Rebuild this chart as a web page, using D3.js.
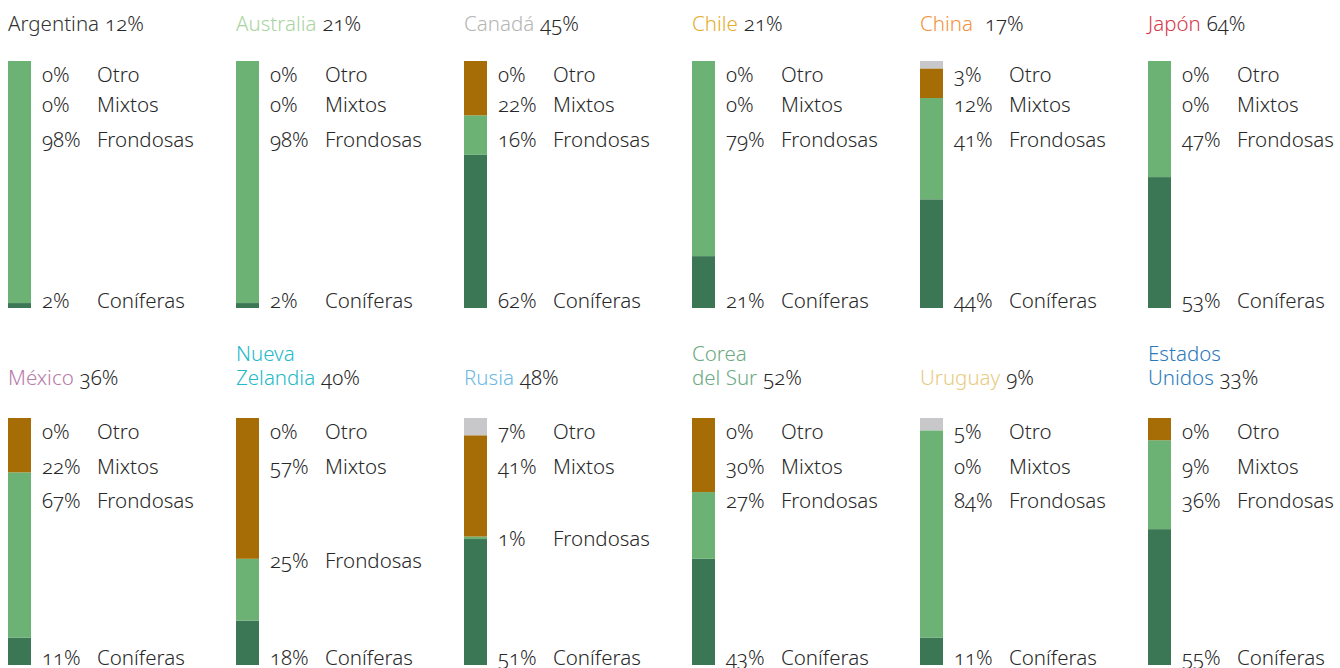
<!DOCTYPE html>
<html>
<head>
<meta charset="utf-8">
<script src="https://cdn.jsdelivr.net/npm/d3@7"></script>
<style>
  html, body { margin: 0; padding: 0; background: #fff; }
  svg text { font-family: "Noto Sans", "Liberation Sans", sans-serif; font-weight: 300; font-variant-numeric: oldstyle-nums; font-feature-settings: "onum" 1; }
</style>
</head>
<body>
<svg id="chart" width="1340" height="668"></svg>
<script>
// ---- data ----
const countries = ["Argentina", "Australia", "Canadá", "Chile", "China", "Japón",
                   "México", "Nueva\nZelandia", "Rusia", "Corea\ndel Sur", "Uruguay", "Estados\nUnidos"];
const totals    = [12, 21, 45, 21, 17, 64, 36, 40, 48, 52, 9, 33];
const otro      = [0, 0, 0, 0, 3, 0, 0, 0, 7, 0, 5, 0];
const mixtos    = [0, 0, 22, 0, 12, 0, 22, 57, 41, 30, 0, 9];
const frondosas = [98, 98, 16, 79, 41, 47, 67, 25, 1, 27, 84, 36];
const coniferas = [2, 2, 62, 21, 44, 53, 11, 18, 51, 43, 11, 55];
const categories = ["Coníferas", "Frondosas", "Mixtos", "Otro"];
const countryColors = ["#333333", "#a9d4a1", "#b5b5b5", "#e3ae2e", "#f4913c", "#d6394b",
                       "#b87aa8", "#25b8c9", "#6cb9e5", "#6baa82", "#e8cb82", "#2c7abb"];
const segColors = { "Coníferas": "#3b7655", "Frondosas": "#6bb274", "Mixtos": "#a66c05", "Otro": "#c8c8ca" };

// ---- layout ----
const svg = d3.select("#chart");
const textColor = "#282828";
const fs = 20.5;
const colStep = 228, col0 = 8, barW = 23;
const rows = [
  { top: 61, bottom: 308, titleY: 31, g1: 30, g2: 35 },
  { top: 418, bottom: 665, titleY: 385, g1: 35, g2: 34 }
];

const table = countries.map((c, i) => ({
  name: c, total: totals[i], color: countryColors[i],
  "Coníferas": coniferas[i], "Frondosas": frondosas[i], "Mixtos": mixtos[i], "Otro": otro[i]
}));
const stacked = d3.stack().keys(categories)(table);

table.forEach((d, i) => {
  const r = rows[Math.floor(i / 6)];
  const x0 = col0 + (i % 6) * colStep;
  const y = d3.scaleLinear().domain([0, 100]).range([r.bottom, r.top]);
  const g = svg.append("g");

  // bar segments
  stacked.forEach(layer => {
    const s = layer[i];
    if (s[1] - s[0] <= 0) return;
    g.append("rect")
      .attr("x", x0).attr("width", barW)
      .attr("y", y(s[1])).attr("height", y(s[0]) - y(s[1]))
      .attr("fill", segColors[layer.key]);
  });

  // title
  const lines = d.name.split("\n");
  const t = g.append("text").attr("font-size", fs);
  lines.forEach((ln, k) => {
    const ly = r.titleY - (lines.length - 1 - k) * 24;
    t.append("tspan").attr("x", x0).attr("y", ly).attr("fill", d.color).text(ln);
  });
  t.append("tspan").attr("fill", textColor).attr("dx", d.name === "China" ? 12 : 6).text(d.total + "%");

  // labels
  const segTop = key => y(stacked[categories.indexOf(key)][i][1]);
  const yOtro = r.top + 21;
  const yMix = yOtro + r.g1;
  const yFro = Math.max(yMix + r.g2, segTop("Frondosas") + 9);
  const yCon = r.bottom;
  const labelY = { "Otro": yOtro, "Mixtos": yMix, "Frondosas": yFro, "Coníferas": yCon };
  ["Otro", "Mixtos", "Frondosas", "Coníferas"].forEach(k => {
    g.append("text").attr("x", x0 + 34).attr("y", labelY[k])
      .attr("font-size", fs).attr("fill", textColor).text(d[k] + "%");
    g.append("text").attr("x", x0 + 89).attr("y", labelY[k])
      .attr("font-size", fs).attr("fill", textColor).text(k);
  });
});
</script>
</body>
</html>
